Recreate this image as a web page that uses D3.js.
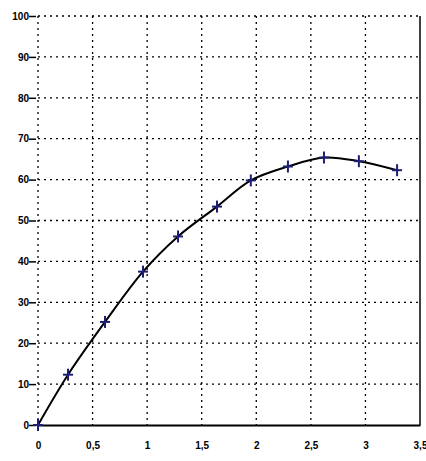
<!DOCTYPE html>
<html>
<head>
<meta charset="utf-8">
<script src="https://cdn.jsdelivr.net/npm/d3@7"></script>
<style>
  html, body { margin: 0; padding: 0; background: #fff; }
  svg { display: block; }
  .tick text { font-family: "Liberation Sans", Arial, sans-serif; font-weight: bold; font-size: 10px; fill: #000; }
</style>
</head>
<body>
<svg id="chart" width="426" height="461"></svg>
<script>
// Measured series
const xValues = [0, 0.275, 0.614, 0.962, 1.283, 1.64, 1.95, 2.29, 2.62, 2.94, 3.29];
const yValues = [0, 12.3, 25.2, 37.5, 46.1, 53.4, 59.8, 63.2, 65.4, 64.5, 62.3];

// Axis ticks and their labels
const xTicks = [0, 0.5, 1, 1.5, 2, 2.5, 3, 3.5];
const xTickLabels = ["0", "0,5", "1", "1,5", "2", "2,5", "3", "3,5"];
const yTicks = [0, 10, 20, 30, 40, 50, 60, 70, 80, 90, 100];
const yTickLabels = ["0", "10", "20", "30", "40", "50", "60", "70", "80", "90", "100"];

const svg = d3.select("#chart");
const plotLeft = 38, plotRight = 420, plotTop = 16, plotBottom = 425;

const x = d3.scaleLinear().domain([0, 3.5]).range([plotLeft, plotRight]);
const y = d3.scaleLinear().domain([0, 100]).range([plotBottom, plotTop]);

// Dotted grid
const grid = svg.append("g").attr("stroke", "#000").attr("stroke-width", 1.3)
  .attr("stroke-dasharray", "2,4");
grid.selectAll("line.h").data(yTicks.slice(1)).join("line")
  .attr("x1", plotLeft).attr("x2", plotRight)
  .attr("y1", d => y(d)).attr("y2", d => y(d));
grid.selectAll("line.v").data(xTicks.slice(0, -1)).join("line")
  .attr("x1", d => x(d)).attr("x2", d => x(d))
  .attr("y1", plotTop).attr("y2", plotBottom);

// Right border
svg.append("line").attr("x1", plotRight).attr("x2", plotRight)
  .attr("y1", plotTop).attr("y2", plotBottom)
  .attr("stroke", "#000").attr("stroke-width", 1.5);

// Axes
const xAxis = d3.axisBottom(x).tickValues(xTicks)
  .tickFormat((d, i) => xTickLabels[i]).tickSize(0).tickPadding(17);
const gx = svg.append("g").attr("transform", `translate(0,${plotBottom})`).call(xAxis);
gx.select(".domain").attr("stroke", "#000").attr("stroke-width", 1.8);

const yAxis = d3.axisLeft(y).tickValues(yTicks)
  .tickFormat((d, i) => yTickLabels[i]).tickSize(-7).tickPadding(8);
const gy = svg.append("g").attr("transform", `translate(${plotLeft},0)`).call(yAxis);
gy.select(".domain").remove();
gy.selectAll(".tick line").attr("stroke", "#000").attr("stroke-width", 1.5)
  .attr("transform", "translate(-9,0)");
gy.selectAll(".tick text").attr("x", -9).attr("text-anchor", "end");

// Fitted curve
const pts = xValues.map((v, i) => [v, yValues[i]]);
const line = d3.line().x(d => x(d[0])).y(d => y(d[1])).curve(d3.curveCatmullRom.alpha(0.5));
svg.append("path").datum(pts).attr("d", line)
  .attr("fill", "none").attr("stroke", "#000").attr("stroke-width", 2);

// Cross markers
const marks = svg.append("g").attr("stroke", "#1c1f73").attr("stroke-width", 2);
pts.forEach(d => {
  const cx = x(d[0]), cy = y(d[1]);
  marks.append("line").attr("x1", cx - 5).attr("x2", cx + 5).attr("y1", cy).attr("y2", cy);
  marks.append("line").attr("x1", cx).attr("x2", cx).attr("y1", cy - 6).attr("y2", cy + 6);
});
</script>
</body>
</html>
